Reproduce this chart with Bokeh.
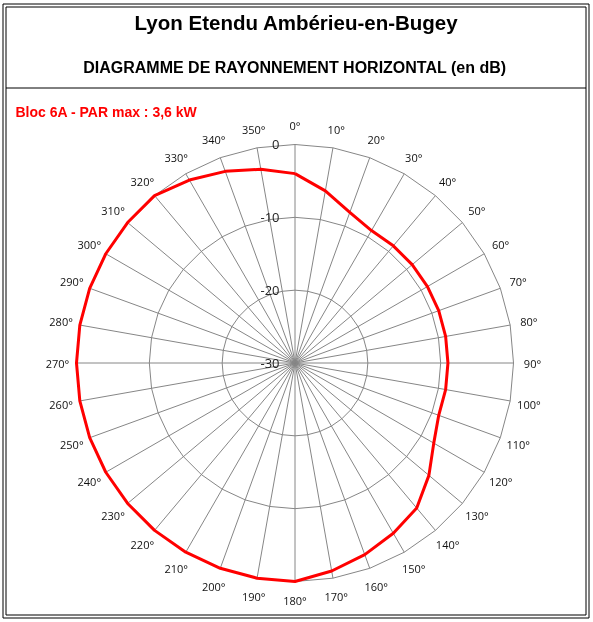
import numpy as np
from bokeh.plotting import figure
from bokeh.models import Range1d
from bokeh.core.properties import value
from bokeh.embed import file_html
from bokeh.resources import INLINE

# ---- data ----
title = "Lyon Etendu Ambérieu-en-Bugey"
subtitle = "DIAGRAMME DE RAYONNEMENT HORIZONTAL  (en dB)"
series_label = "Bloc 6A - PAR max : 3,6 kW"
angles = [0, 10, 20, 30, 40, 50, 60, 70, 80, 90, 100, 110, 120, 130, 140, 150, 160, 170,
          180, 190, 200, 210, 220, 230, 240, 250, 260, 270, 280, 290, 300, 310, 320, 330, 340, 350]
gain_db = [-4, -6, -8, -9, -9, -9, -9, -9, -9, -9, -9, -9, -8, -6, -4, -3, -2, -1,
           0, 0, 0, 0, 0, 0, 0, 0, 0, 0, 0, 0, 0, 0, 0, -1, -2, -3]
ring_levels = [-30, -20, -10, 0]
ring_labels = ["-30", "-20", "-10", "0"]
angle_labels = [f"{a}°" for a in angles]

# ---- geometry (pixel layout) ----
W, H = 593, 622
CX, CY = 294.5, 362.5
R_OUT = 218.5
DB_MIN = -30.0
K = R_OUT / (0 - DB_MIN)   # px per dB unit


def px_x(x):
    return (x - CX) / K


def px_y(y):
    return (CY - y) / K


p = figure(width=W, height=H, output_backend="svg", toolbar_location=None,
           x_range=Range1d(px_x(0), px_x(W)), y_range=Range1d(px_y(H), px_y(0)),
           x_axis_type=None, y_axis_type=None, min_border=0,
           outline_line_color=None, background_fill_color="white",
           border_fill_color="white",
           styles={"position": "fixed", "left": "0px", "top": "0px"})
p.grid.visible = False

theta = np.deg2rad(np.array(angles, dtype=float))
sin_t, cos_t = np.sin(theta), np.cos(theta)
GRID = "#868686"

# spokes
r_out = 0 - DB_MIN
p.segment(x0=np.zeros(len(angles)), y0=np.zeros(len(angles)),
          x1=r_out * sin_t, y1=r_out * cos_t, line_color=GRID, line_width=1)

# rings (polygons)
for lvl in ring_levels[1:]:
    r = lvl - DB_MIN
    xs = list(r * sin_t) + [r * sin_t[0]]
    ys = list(r * cos_t) + [r * cos_t[0]]
    p.line(xs, ys, line_color=GRID, line_width=1)

# radial labels
p.text(x=[px_x(CX - 15.5)] * len(ring_levels),
       y=[lvl - DB_MIN for lvl in ring_levels],
       text=ring_labels, text_align="right", text_baseline="middle",
       text_font=value("Open Sans"), text_font_size="13px", text_color="#222222")

# angle labels
r_lab = 237.5 / K
p.text(x=r_lab * sin_t, y=r_lab * cos_t, text=angle_labels,
       text_align="center", text_baseline="middle",
       text_font=value("Open Sans"), text_font_size="11px", text_color="#111111")

# data line
rv = np.array(gain_db, dtype=float) - DB_MIN
xs = list(rv * sin_t) + [rv[0] * sin_t[0]]
ys = list(rv * cos_t) + [rv[0] * cos_t[0]]
p.line(xs, ys, line_color="#ff0000", line_width=3, line_join="round")

# frame: double border + separator
p.quad(left=[px_x(2.5), px_x(5.5)], right=[px_x(588.5), px_x(585.5)],
       top=[px_y(3.5), px_y(6.5)], bottom=[px_y(617.5), px_y(614.5)],
       fill_color=None, line_color="black", line_width=1)
p.segment(x0=[px_x(5.5)], y0=[px_y(87.5)], x1=[px_x(585.5)], y1=[px_y(87.5)],
          line_color="black", line_width=1)

# titles
p.text(x=[px_x(296)], y=[px_y(21.5)], text=[title], text_align="center",
       text_baseline="middle", text_font=value("Liberation Sans"),
       text_font_size="20.5px", text_font_style="bold", text_color="black")
p.text(x=[px_x(296.5)], y=[px_y(67)], text=[subtitle], text_align="center",
       text_baseline="middle", text_font=value("Liberation Sans"),
       text_font_size="16px", text_font_style="bold", text_color="black")
p.text(x=[px_x(15)], y=[px_y(111.5)], text=[series_label], text_align="left",
       text_baseline="middle", text_font=value("Liberation Sans"),
       text_font_size="14px", text_font_style="bold", text_color="#ff0000")

open("out.html", "w").write(file_html(p, INLINE))
